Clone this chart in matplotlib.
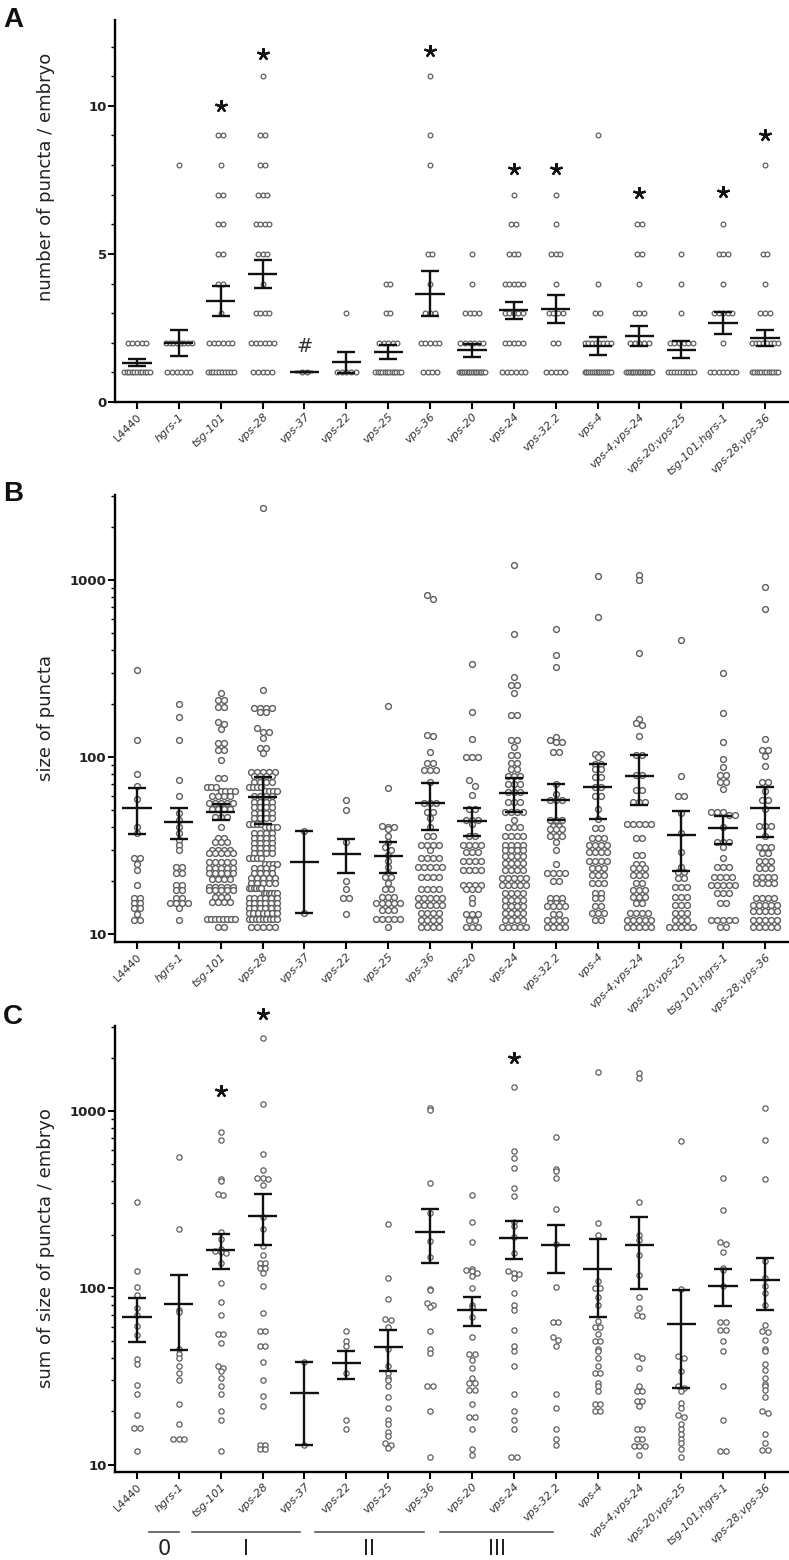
import numpy as np
import matplotlib
matplotlib.use('Agg')
import matplotlib.pyplot as plt
from matplotlib.ticker import LogLocator, NullFormatter
from matplotlib.transforms import blended_transform_factory

CATS = ['L4440', 'hgrs-1', 'tsg-101', 'vps-28', 'vps-37', 'vps-22', 'vps-25', 'vps-36',
        'vps-20', 'vps-24', 'vps-32.2', 'vps-4', 'vps-4;vps-24', 'vps-20;vps-25',
        'tsg-101;hgrs-1', 'vps-28;vps-36']

# ---------- A: number of puncta per embryo, (value, count) ----------
A_PTS = [
    [(2, 5), (1, 11)],
    [(8, 1), (2, 8), (1, 6)],
    [(9, 2), (8, 1), (7, 2), (6, 2), (5, 2), (4, 2), (3, 1), (2, 6), (1, 10)],
    [(11, 1), (9, 2), (8, 2), (7, 3), (6, 4), (5, 3), (4, 1), (3, 4), (2, 6), (1, 5)],
    [(1, 2)],
    [(3, 1), (1, 5)],
    [(4, 2), (3, 2), (2, 5), (1, 12)],
    [(11, 1), (9, 1), (8, 1), (5, 2), (4, 1), (3, 3), (2, 5), (1, 4)],
    [(5, 1), (4, 1), (3, 4), (2, 6), (1, 16)],
    [(7, 1), (6, 2), (5, 3), (4, 5), (3, 5), (2, 5), (1, 6)],
    [(7, 1), (6, 1), (5, 3), (4, 1), (3, 4), (2, 2), (1, 5)],
    [(9, 1), (4, 1), (3, 2), (2, 8), (1, 15)],
    [(6, 2), (5, 2), (4, 1), (3, 3), (2, 5), (1, 16)],
    [(5, 1), (4, 1), (3, 1), (2, 6), (1, 10)],
    [(6, 1), (5, 3), (4, 1), (3, 5), (2, 1), (1, 7)],
    [(8, 1), (5, 2), (4, 1), (3, 3), (2, 8), (1, 12)],
]
A_MEAN = [1.32, 1.99, 3.42, 4.31, 1.0, 1.34, 1.68, 3.65, 1.74, 3.09, 3.14, 1.90, 2.22, 1.77, 2.67, 2.16]
A_SEM = [0.12, 0.45, 0.51, 0.47, 0.0, 0.36, 0.24, 0.76, 0.21, 0.30, 0.46, 0.31, 0.33, 0.28, 0.38, 0.28]
A_STAR_CATS = [2, 3, 7, 9, 10, 12, 14, 15]
A_STAR_VALS = [10.0, 11.74, 11.87, 7.87, 7.87, 7.05, 7.1, 9.0]

# ---------- B: size of puncta, (value, count) ----------
B_PTS = [
    [(309, 1), (125, 1), (80, 1), (69, 1), (58, 1), (40, 1), (37, 1), (27, 2), (25, 1), (23, 1),
     (19, 1), (16, 2), (15, 2), (14, 2), (13, 1), (12, 2)],
    [(199, 1), (169, 1), (125, 1), (74, 1), (60, 1), (48, 1), (44, 1), (40, 1), (37, 1), (34, 1),
     (32, 1), (30, 1), (24, 2), (22, 2), (19, 2), (17.7, 2), (16, 2), (15, 4), (14, 1), (12, 1)],
    [(229, 1), (211, 2), (192, 2), (158, 1), (153, 1), (143, 1), (120, 2), (110, 2), (96, 1), (76, 2),
     (68, 3), (64, 4), (60, 4), (55, 5), (51, 4), (46, 3), (40, 1), (35, 2), (33, 3), (30, 4),
     (28.6, 5), (25.6, 5), (23.5, 5), (22, 5), (20.4, 4), (18.5, 5), (17.7, 5), (16.2, 3), (15.2, 4),
     (12.1, 8), (11, 2)],
    [(2540, 1), (240, 1), (190, 4), (180, 2), (145, 1), (139, 2), (128, 1), (112, 2), (105, 1), (82, 5),
     (78, 4), (72, 4), (68, 4), (64, 4), (60, 4), (56, 4), (52, 4), (48.5, 4), (45, 4), (42, 4),
     (40, 4), (37, 4), (34.7, 4), (32.5, 4), (30.5, 4), (28.6, 4), (26.8, 4), (25, 4), (23.5, 4),
     (22, 4), (20.6, 5), (19.3, 5), (18.1, 6), (17, 6), (15.9, 6), (14.9, 6), (14, 6), (13.1, 7),
     (12.1, 9), (11, 5)],
    [(38.2, 1), (13.1, 1)],
    [(57, 1), (50, 1), (33, 1), (20, 1), (18, 1), (16, 2), (13, 1)],
    [(195, 1), (67, 1), (41, 1), (40, 2), (39, 1), (36, 1), (33, 1), (31, 1), (30, 1), (28, 1),
     (26, 1), (24, 1), (22, 1), (21, 2), (19.3, 1), (18, 2), (16.2, 3), (15, 5), (13.7, 3),
     (12.1, 5), (11, 1)],
    [(822, 1), (784, 1), (133, 1), (131, 1), (106, 1), (93, 2), (84, 3), (72, 1), (55, 3), (49, 2),
     (45, 1), (40, 1), (36, 2), (32, 4), (30, 1), (27, 4), (24, 5), (21, 4), (18, 4), (16, 5),
     (14.6, 5), (13.1, 4), (12, 4), (11, 4)],
    [(334, 1), (180, 1), (126, 1), (100, 3), (74, 1), (69, 1), (61, 1), (51, 2), (44, 3), (42, 1),
     (36, 2), (32, 4), (29, 3), (26, 4), (23, 4), (19, 4), (18, 3), (16, 1), (15, 1), (13, 3),
     (12, 2), (11, 3)],
    [(1216, 1), (495, 1), (282, 1), (254, 2), (229, 1), (172, 2), (125, 2), (114, 1), (103, 2), (93, 2),
     (85, 2), (78, 3), (70, 3), (63, 3), (56, 3), (49, 4), (44, 1), (40, 3), (36, 4), (32, 4),
     (30, 4), (27.5, 4), (25.1, 4), (23, 4), (20.6, 5), (19, 5), (17, 4), (15.6, 4), (14.3, 4),
     (13.1, 4), (12, 4), (11, 5)],
    [(526, 1), (376, 1), (324, 1), (130, 1), (125, 1), (122, 2), (107, 2), (70, 1), (62, 1), (57, 3),
     (44, 3), (41, 2), (39, 3), (36, 3), (33, 1), (30, 1), (25, 1), (22, 4), (20, 2), (16, 3),
     (15, 3), (14.3, 4), (13, 2), (12, 4), (11, 4)],
    [(1054, 1), (615, 1), (104, 2), (100, 1), (91, 2), (85, 2), (77, 2), (68, 2), (60, 2), (51, 1),
     (44.5, 1), (39.5, 2), (35, 3), (32, 4), (29, 4), (26, 4), (23.5, 3), (21.5, 3), (19.3, 3),
     (17, 2), (16, 2), (14.3, 2), (13.1, 3), (12, 2)],
    [(1064, 1), (1005, 1), (388, 1), (163, 1), (155, 1), (152, 1), (131, 1), (103, 2), (79, 2), (65, 2),
     (56, 3), (42, 5), (35, 2), (28, 2), (25, 2), (23.5, 3), (21.5, 3), (19.3, 2), (17.7, 3),
     (16.2, 3), (14.9, 2), (13.1, 4), (12, 5), (11, 5)],
    [(458, 1), (78, 1), (60, 2), (48, 1), (37, 1), (29, 1), (24, 1), (22.5, 2), (20.6, 2), (18.5, 3),
     (16.2, 3), (14.6, 3), (13.1, 3), (12, 3), (11, 5)],
    [(299, 1), (178, 1), (121, 1), (97, 1), (88, 1), (79, 2), (72, 2), (66, 1), (49, 3), (47, 2),
     (40, 1), (33, 3), (31, 1), (27, 1), (24, 3), (21, 4), (19, 5), (17, 3), (15, 2), (12, 5), (11, 2)],
    [(910, 1), (682, 1), (126, 1), (109, 2), (101, 1), (89, 1), (72, 2), (64, 1), (57, 2), (51, 1),
     (40.6, 3), (36, 1), (31, 3), (28.6, 2), (26, 3), (23.5, 3), (21, 4), (19.3, 4), (15.9, 4),
     (14.6, 5), (13.4, 5), (12, 5), (11, 5)],
]
B_MEAN = [51.7, 42.8, 49.0, 59.6, 25.6, 28.2, 27.7, 55.2, 43.6, 62.7, 57.2, 68.1, 78.0, 36.2, 39.5, 51.7]
B_SEM = [15.2, 8.5, 4.9, 17.9, 12.5, 6.2, 5.6, 16.4, 8.0, 13.5, 13.3, 23.4, 24.6, 13.6, 7.1, 16.2]

# ---------- C: sum of size of puncta per embryo ----------
C_PTS = [
    [305, 125, 101, 91, 77, 70, 61, 54, 39.6, 37, 28.4, 25.2, 19, 16.1, 16.1, 12],
    [550, 215, 75, 73, 45, 42, 40, 36, 33, 30, 22, 17, 14, 14, 14],
    [760, 688, 410, 400, 340, 335, 207, 188, 165, 162, 160, 157, 138, 107, 83, 70, 55, 55, 49, 36,
     35, 34, 31, 28, 25, 20, 18, 12],
    [2570, 1100, 572, 466, 420, 415, 410, 380, 253, 215, 173, 153, 139, 139, 130, 130, 121, 102, 72,
     57, 57, 47, 47, 38, 30, 24.5, 21.4, 13, 13, 12.3, 12.3],
    [38, 13],
    [57, 50, 47, 33, 18, 16],
    [229, 114, 86, 67, 66, 60, 45, 36, 33, 31, 30, 28, 24, 21, 18, 17, 15.4, 14.6, 13.3, 13, 12.5],
    [1040, 1010, 390, 265, 183, 150, 98, 97, 82, 80, 78, 57, 45, 43, 28, 28, 20, 11],
    [333, 237, 181, 128, 126, 124, 122, 117, 100, 80, 78, 68, 53, 42, 42, 39, 35, 31, 29, 29, 26.5,
     26.5, 22, 18.7, 18.7, 16, 12.2, 11.3],
    [1370, 595, 540, 476, 369, 330, 235, 225, 194, 158, 125, 122, 120, 113, 93, 80, 75, 58, 47, 44,
     36, 25, 20, 18, 16, 11, 11],
    [716, 468, 455, 415, 280, 176, 101, 64, 64, 53, 51, 47, 25, 21, 16, 14, 13],
    [1670, 232, 199, 110, 100, 100, 89, 80, 65, 60, 60, 55, 50, 50, 45, 44, 40, 36, 33, 33, 29, 28,
     26, 22, 22, 20, 20],
    [1640, 1530, 305, 199, 186, 153, 118, 89, 77, 70, 69, 41, 40, 35, 28, 26, 26, 23, 23, 21.4, 16,
     16, 14, 13.9, 12.8, 12.8, 12.8, 11.3],
    [675, 99, 41, 40, 34, 28, 27, 26, 22.4, 21, 19, 18.5, 17, 16, 15, 14, 13.3, 12.3, 11],
    [415, 275, 182, 176, 160, 130, 126, 103, 64, 64, 58, 58, 50, 44, 28, 18, 12, 12],
    [1040, 683, 410, 141, 113, 103, 93, 80, 62, 57, 56, 51, 45, 44, 37, 34.5, 31, 28.5, 28, 26.4,
     24, 20, 19.6, 15, 13.3, 12.1, 12.1],
]
C_MEAN = [68.4, 81.5, 164.5, 256, 25.5, 37.4, 46.1, 208, 74.5, 192, 175, 128, 175, 62.2, 103, 111]
C_SEM = [19.3, 37, 36.5, 81, 12.5, 6.8, 12, 70, 13.8, 47, 53, 60, 77, 35, 24, 36]
C_STAR_CATS = [2, 3, 9]
C_STAR_VALS = [1300, 3515, 1990]

GROUPS = ['0', 'I', 'II', 'III']
GROUP_SPANS = [(0.29, 1.0), (1.31, 3.89), (4.25, 6.85), (7.24, 9.94)]

W, H = 789, 1560
fig = plt.figure(figsize=(W / 100, H / 100), dpi=100)
TXT = '#222222'


def px_axes(left, top, right, bottom):
    return fig.add_axes([left / W, 1 - bottom / H, (right - left) / W, (bottom - top) / H])


def expand(pairs):
    return np.array([v for v, n in pairs for _ in range(n)], dtype=float)


def style(ax):
    for s in ['top', 'right']:
        ax.spines[s].set_visible(False)
    for s in ['left', 'bottom']:
        ax.spines[s].set_linewidth(1.7)
    ax.set_xlim(-0.525, 15.55)
    ax.set_xticks(range(len(CATS)))
    ax.set_xticklabels(CATS)
    for k, lab in enumerate(ax.get_xticklabels()):
        lab.set_rotation(45)
        lab.set_ha('right')
        lab.set_va('top')
        lab.set_rotation_mode('anchor')
        lab.set_fontsize(8)
        lab.set_color('#333333')
        if k > 0:
            lab.set_fontstyle('italic')
    ax.tick_params(axis='x', direction='out', length=5, width=1.5, pad=2)
    ax.tick_params(axis='y', which='major', direction='out', length=5, width=1.4, pad=1,
                   labelsize=9.5, labelcolor='#222222')
    ax.tick_params(axis='y', which='minor', direction='out', length=3, width=1.0)
    for lab in ax.get_yticklabels():
        lab.set_fontweight('bold')


def swarm(ax, pts, row_px, step_px, half_px, ms, mew):
    # Prism-like scatter: points binned into rows, each row centred on its category
    x0 = ax.transData.transform((0, 1))[0]
    x1 = ax.transData.transform((1, 1))[0]
    unit = x1 - x0
    for i, vals in enumerate(pts):
        vals = np.sort(np.asarray(vals, dtype=float))[::-1]
        ypix = ax.transData.transform(np.column_stack([np.full(len(vals), i), vals]))[:, 1]
        bins = np.floor(ypix / row_px)
        off = np.zeros(len(vals))
        for b in np.unique(bins):
            idx = np.where(bins == b)[0]
            n = len(idx)
            if n > 1:
                s = min(step_px, 2 * half_px / (n - 1))
                off[idx] = (np.arange(n) - (n - 1) / 2) * s
        ax.plot(i + off / unit, vals, 'o', ms=ms, mfc='white', mec='#5e5e5e', mew=mew,
                ls='none', zorder=2, clip_on=False)


def mean_sem(ax, mean, sem):
    xs = np.arange(len(mean))
    ax.errorbar(xs, mean, yerr=sem, fmt='none', ecolor='#111111', elinewidth=1.7,
                capsize=6.5, capthick=1.7, zorder=3)
    ax.hlines(mean, xs - 0.35, xs + 0.35, color='#111111', lw=1.7, zorder=3)


# ---------- panel A ----------
ax_a = px_axes(115, 20, 788, 402)
ax_a.set_ylim(0, 12.9)
ax_a.set_yticks([0, 5, 10])
ax_a.set_yticks(range(0, 13), minor=True)
style(ax_a)
swarm(ax_a, [expand(p) for p in A_PTS], 3, 4.6, 13, 3.4, 0.9)
mean_sem(ax_a, A_MEAN, A_SEM)
ax_a.plot(A_STAR_CATS, A_STAR_VALS, ls='none', marker=(5, 2, 0), ms=9, mew=1.6, color='#111111',
          clip_on=False)
ax_a.text(4, 1.88, '#', ha='center', va='center', fontsize=14, color='#333333')

# ---------- panel B ----------
ax_b = px_axes(115, 495, 788, 942)
ax_b.set_yscale('log')
ax_b.set_ylim(9.01, 3020)
ax_b.set_yticks([10, 100, 1000])
ax_b.set_yticklabels(['10', '100', '1000'])
ax_b.yaxis.set_minor_locator(LogLocator(subs=range(2, 10)))
ax_b.yaxis.set_minor_formatter(NullFormatter())
style(ax_b)
swarm(ax_b, [expand(p) for p in B_PTS], 6, 6, 14, 4.2, 1.0)
mean_sem(ax_b, B_MEAN, B_SEM)

# ---------- panel C ----------
ax_c = px_axes(115, 1026, 788, 1472)
ax_c.set_yscale('log')
ax_c.set_ylim(9.1, 3020)
ax_c.set_yticks([10, 100, 1000])
ax_c.set_yticklabels(['10', '100', '1000'])
ax_c.yaxis.set_minor_locator(LogLocator(subs=range(2, 10)))
ax_c.yaxis.set_minor_formatter(NullFormatter())
style(ax_c)
swarm(ax_c, C_PTS, 5, 5.5, 12, 3.8, 0.9)
mean_sem(ax_c, C_MEAN, C_SEM)
ax_c.plot(C_STAR_CATS, C_STAR_VALS, ls='none', marker=(5, 2, 0), ms=9, mew=1.6, color='#111111',
          clip_on=False)

# group brackets under panel C
tr = blended_transform_factory(ax_c.transData, fig.transFigure)
for name, (g0, g1) in zip(GROUPS, GROUP_SPANS):
    ax_c.plot([g0, g1], [1 - 1531.5 / H] * 2, color='#555555', lw=1.2, transform=tr, clip_on=False)
    fig.text((ax_c.transData.transform(((g0 + g1) / 2, 10))[0]) / W, 1 - 1549 / H, name,
             ha='center', va='center', fontsize=15, color=TXT)

# axis titles and panel letters
fig.text(46 / W, 1 - 177 / H, 'number of puncta / embryo', rotation=90, ha='center', va='center',
         fontsize=13, color=TXT)
fig.text(46 / W, 1 - 718 / H, 'size of puncta', rotation=90, ha='center', va='center',
         fontsize=13, color=TXT)
fig.text(46 / W, 1 - 1248 / H, 'sum of size of puncta / embryo', rotation=90, ha='center',
         va='center', fontsize=13, color=TXT)
for letter, y in [('A', 20), ('B', 494), ('C', 1017)]:
    fig.text(3 / W, 1 - y / H, letter, ha='left', va='center', fontsize=20, fontweight='bold',
             family='Liberation Sans', color='#111111')

fig.savefig('out.png', dpi=100)
